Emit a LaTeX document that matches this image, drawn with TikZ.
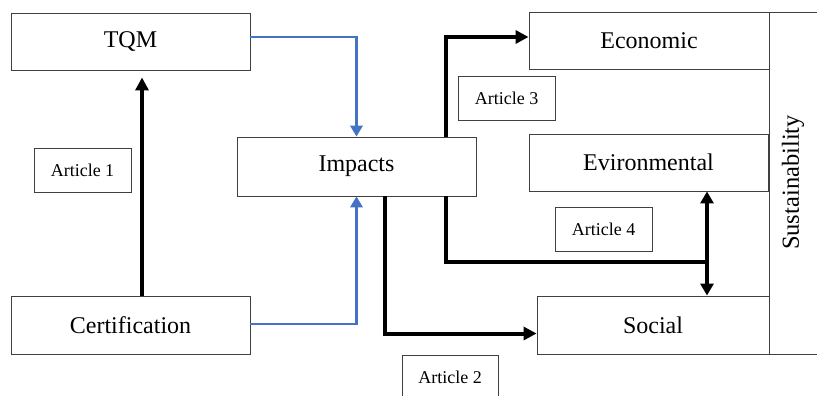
\documentclass[tikz,border=0pt]{standalone}
\usepackage{fontspec}
\setmainfont{Liberation Serif}
\usepackage{xcolor}
\usetikzlibrary{arrows.meta, positioning, calc}

\definecolor{wordblue}{HTML}{4472C4}

\begin{document}
\begin{tikzpicture}[x=1pt, y=-1pt,
    box/.style={draw=black!75, line width=0.9pt, fill=white, inner sep=0pt, font=\fontsize{24}{28}\selectfont},
    artbox/.style={draw=black!75, line width=0.9pt, fill=white, inner sep=0pt, minimum width=97pt, minimum height=44pt, font=\fontsize{18}{22}\selectfont},
    blk/.style={line width=4pt, -{Triangle[length=13pt, width=13pt]}},
    blu/.style={wordblue, line width=2.2pt, -{Triangle[length=11pt, width=12.5pt]}}]
    \useasboundingbox (0,0) rectangle (817,396);
    \clip (0,0) rectangle (817,396);

    % Sustainability frame
    \node[box, minimum width=70pt, minimum height=342pt] (sust) at (804,183) {};
    \node[rotate=90, font=\fontsize{24.5}{28}\selectfont] (sustlabel) at (793,182.5) {Sustainability};

    % Left column
    \node[box, minimum width=239pt, minimum height=57pt] (tqm) at (130.5,41.5) {TQM};
    \node[box, minimum width=239pt, minimum height=58pt] (cert) at (130.5,325) {Certification};
    \node[artbox] (art1) at (82.5,170) {Article 1};

    % Middle
    \node[box, minimum width=239pt, minimum height=59pt] (impacts) at (356.5,166.5) {Impacts};

    % Right column
    \node[box, minimum width=240pt, minimum height=57pt] (econ) at (649,40.5) {Economic};
    \node[box, minimum width=239pt, minimum height=57pt] (envi) at (648.5,162.5) {Evironmental};
    \node[box, minimum width=232pt, minimum height=58pt] (social) at (653,325) {Social};

    % Article labels
    \node[artbox] (art3) at (506.5,98.5) {Article 3};
    \node[artbox] (art4) at (603.5,229.5) {Article 4};
    \node[artbox, minimum width=96pt] (art2) at (450,377) {Article 2};

    % Connectors
    \draw[blk, shorten >=7pt] ([xshift=11.5pt]cert.north) -- ([xshift=11.5pt]cert.north |- tqm.south);
    \draw[blu] ([yshift=4.5pt]tqm.east) -| (impacts.north);
    \draw[blu] ([yshift=1pt]cert.east) -| (impacts.south);
    \draw[blk] ([xshift=89.5pt]impacts.north) |- ([yshift=3.5pt]econ.west);
    \draw[blk] ([xshift=28.5pt]impacts.south) |- ([yshift=-8.5pt]social.west);
    \coordinate (junc) at (707,262);
    \draw[line width=4pt] ([xshift=89.5pt]impacts.south) |- (junc);
    \draw[blk, {Triangle[length=12pt, width=13pt]}-{Triangle[length=12pt, width=13pt]}] (envi.south -| junc) -- (social.north -| junc);
\end{tikzpicture}
\end{document}
